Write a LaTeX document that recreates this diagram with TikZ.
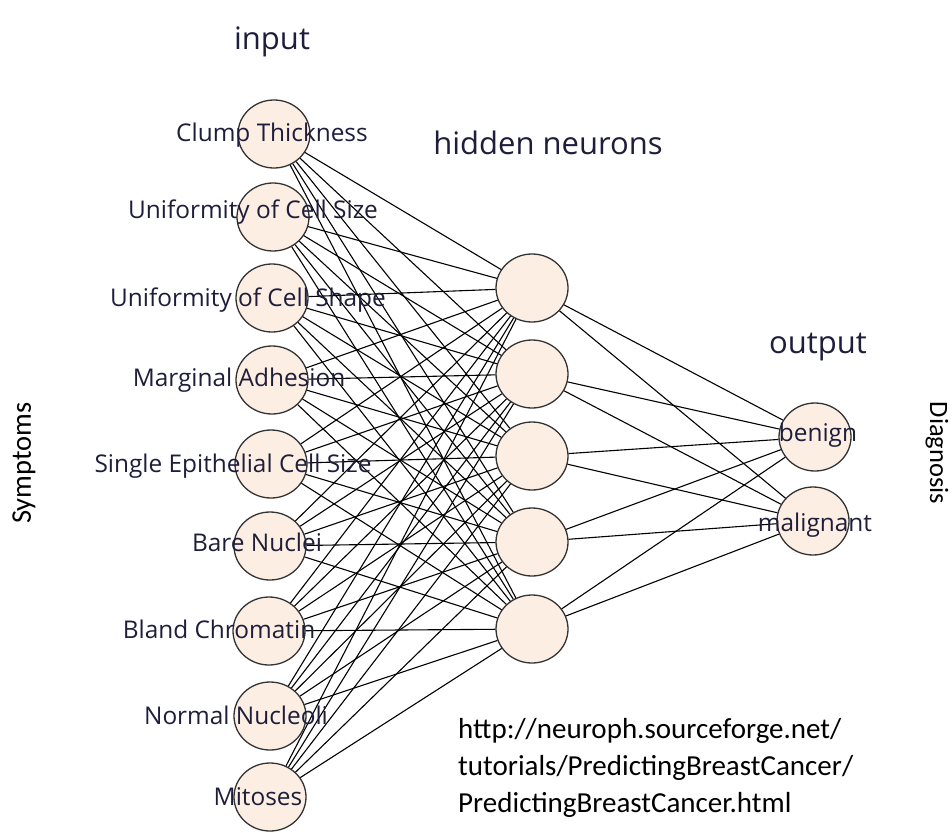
\documentclass[tikz,border=0pt]{standalone}
\usepackage{fontspec}
\setmainfont{Carlito}
\newfontfamily\labelfont{Open Sans}
\usetikzlibrary{shapes.geometric}
\definecolor{neuronfill}{HTML}{FCEEE2}
\definecolor{labelcol}{HTML}{1E1E3C}
\begin{document}
\begin{tikzpicture}[x=1pt,y=-1pt,
  neuron/.style={ellipse, draw=black!80, line width=1.3pt, fill=neuronfill,
    minimum width=72pt, minimum height=68pt, inner sep=0pt},
  conn/.style={line width=1.1pt, black},
  lbl/.style={font=\labelfont\fontsize{24.4}{28}\selectfont, text=labelcol, inner sep=0pt},
  hdr/.style={font=\labelfont\fontsize{31}{36}\selectfont, text=labelcol, inner sep=0pt},
  side/.style={font=\fontsize{29}{37}\selectfont, inner sep=0pt}]
\useasboundingbox[fill=white] (0,0) rectangle (952,832);
% input neurons
\foreach \i/\x/\y in {1/274/134,2/273/217,3/272/298,4/272/380,5/271/464,6/270/546,7/269/631,8/270/716,9/270/797}
  \node[neuron] (in\i) at (\x,\y) {};
% hidden neurons
\foreach \j/\y in {1/288,2/374,3/456,4/542,5/629}
  \node[neuron] (hid\j) at (532,\y) {};
% output neurons
\node[neuron] (out1) at (815,437) {};
\node[neuron] (out2) at (813,521) {};
% connections
\foreach \i in {1,...,9}
  \foreach \j in {1,...,5}
    \draw[conn] (in\i) -- (hid\j);
\foreach \j in {1,...,5}
  \foreach \k in {1,2}
    \draw[conn] (hid\j) -- (out\k);
% neuron labels
\node[lbl] (l1) at (272,135) {Clump Thickness};
\node[lbl] (l2) at (253,212) {Uniformity of Cell Size};
\node[lbl] (l3) at (248,300) {Uniformity of Cell Shape};
\node[lbl] (l4) at (239,380) {Marginal Adhesion};
\node[lbl] (l5) at (233,466) {Single Epithelial Cell Size};
\node[lbl] (l6) at (257,542) {Bare Nuclei};
\node[lbl] (l7) at (219,629) {Bland Chromatin};
\node[lbl] (l8) at (236,715) {Normal Nucleoli};
\node[lbl] (l9) at (258,797) {Mitoses};
\node[lbl] (lb) at (818,435) {benign};
\node[lbl] (lm) at (815,525) {malignant};
% headers
\node[hdr] (hin) at (272,42) {input};
\node[hdr] (hhid) at (548,143) {hidden neurons};
\node[hdr] (hout) at (818,347) {output};
% side texts
\node[side, font=\fontsize{28.5}{34}\selectfont, rotate=90] (sym) at (24,463) {Symptoms};
\node[side, font=\fontsize{26.5}{32}\selectfont, rotate=-90] (diag) at (937,453) {Diagnosis};
% source
\node[side, anchor=base west] (url1) at (458,738) {http://neuroph.sourceforge.net/};
\node[side, anchor=base west] (url2) at (458,775) {tutorials/PredictingBreastCancer/};
\node[side, anchor=base west] (url3) at (458,812) {PredictingBreastCancer.html};
\end{tikzpicture}
\end{document}
